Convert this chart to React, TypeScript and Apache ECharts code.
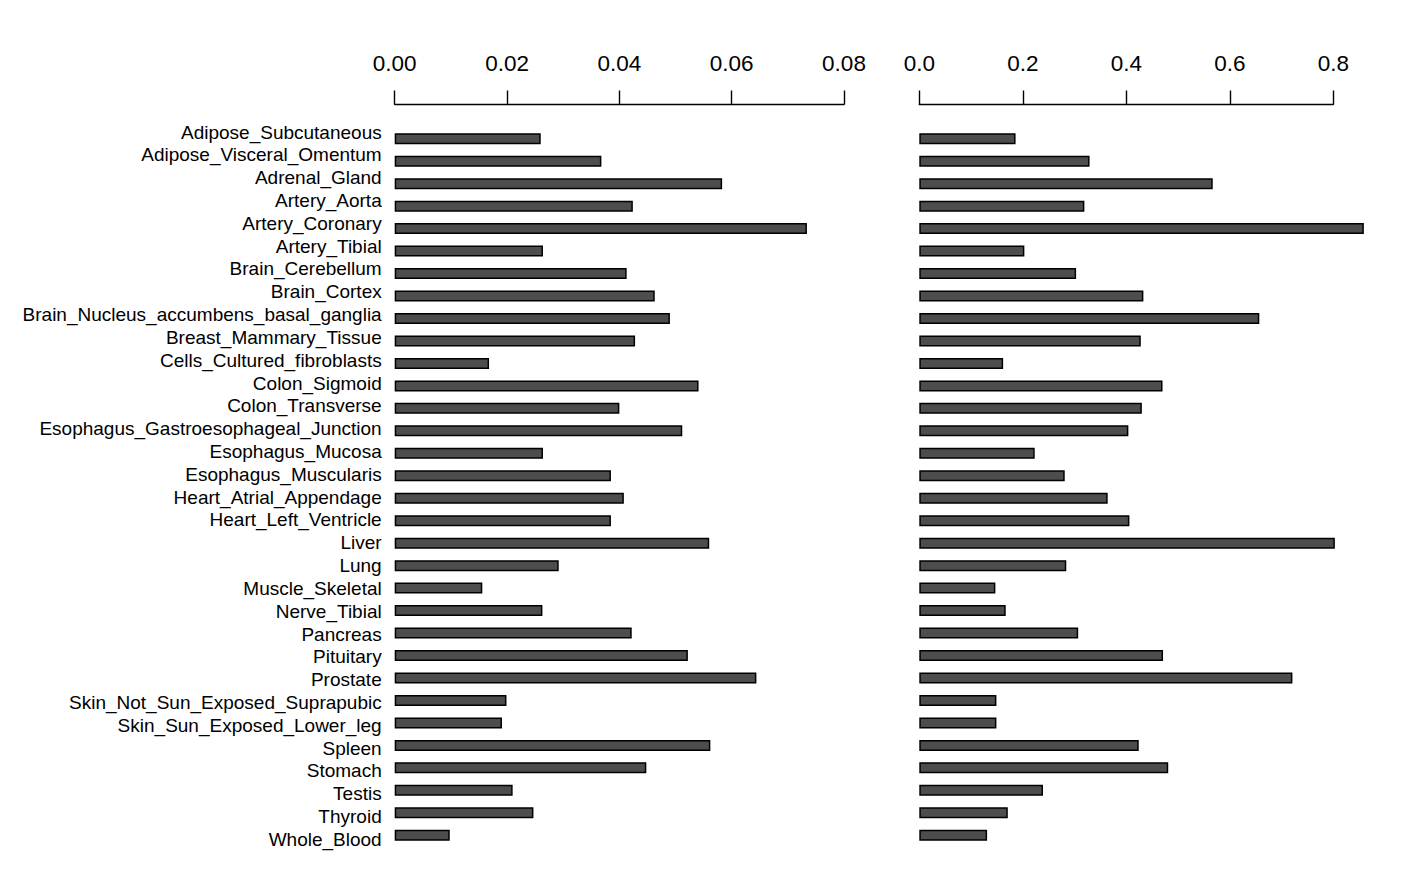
import React, { useEffect, useRef } from "react";
import * as echarts from "echarts";

const categories: string[] = [
  "Adipose_Subcutaneous",
  "Adipose_Visceral_Omentum",
  "Adrenal_Gland",
  "Artery_Aorta",
  "Artery_Coronary",
  "Artery_Tibial",
  "Brain_Cerebellum",
  "Brain_Cortex",
  "Brain_Nucleus_accumbens_basal_ganglia",
  "Breast_Mammary_Tissue",
  "Cells_Cultured_fibroblasts",
  "Colon_Sigmoid",
  "Colon_Transverse",
  "Esophagus_Gastroesophageal_Junction",
  "Esophagus_Mucosa",
  "Esophagus_Muscularis",
  "Heart_Atrial_Appendage",
  "Heart_Left_Ventricle",
  "Liver",
  "Lung",
  "Muscle_Skeletal",
  "Nerve_Tibial",
  "Pancreas",
  "Pituitary",
  "Prostate",
  "Skin_Not_Sun_Exposed_Suprapubic",
  "Skin_Sun_Exposed_Lower_leg",
  "Spleen",
  "Stomach",
  "Testis",
  "Thyroid",
  "Whole_Blood",
];

const leftValues: number[] = [
  0.026, 0.0368, 0.0583, 0.0424, 0.0734, 0.0264, 0.0413, 0.0463, 0.049, 0.0428,
  0.0168, 0.0541, 0.04, 0.0512, 0.0264, 0.0385, 0.0408, 0.0385, 0.056, 0.0292,
  0.0156, 0.0263, 0.0422, 0.0522, 0.0644, 0.0199, 0.0191, 0.0562, 0.0448, 0.021,
  0.0247, 0.0098,
];

const rightValues: number[] = [
  0.186, 0.329, 0.567, 0.319, 0.859, 0.203, 0.303, 0.433, 0.657, 0.428, 0.162,
  0.47, 0.43, 0.404, 0.223, 0.281, 0.364, 0.406, 0.803, 0.284, 0.147, 0.167,
  0.307, 0.471, 0.721, 0.149, 0.149, 0.424, 0.481, 0.239, 0.171, 0.131,
];

const leftTicks = { min: 0, max: 0.08, interval: 0.02, digits: 2 };
const rightTicks = { min: 0, max: 0.8, interval: 0.2, digits: 1 };

const FONT = "'Liberation Sans', Arial, Helvetica, sans-serif";

export default function App() {
  const ref = useRef<HTMLDivElement>(null);

  useEffect(() => {
    if (!ref.current) return;
    const chart = echarts.init(ref.current, null, { renderer: "svg" });

    const barGridTop = 127.5;
    const barGridHeight = 719;

    const xAxisCommon = (t: typeof leftTicks, gridIndex: number) => ({
      type: "value" as const,
      gridIndex,
      position: "top" as const,
      offset: 23,
      min: t.min,
      max: t.max,
      interval: t.interval,
      splitLine: { show: false },
      axisLine: { show: true, lineStyle: { color: "#000", width: 1.4 } },
      axisTick: { show: true, inside: false, length: 14, lineStyle: { color: "#000", width: 1.4 } },
      axisLabel: {
        show: true,
        margin: 30,
        color: "#000",
        fontSize: 22.5,
        fontFamily: FONT,
        formatter: (v: number) => v.toFixed(t.digits),
      },
    });

    const hiddenY = (gridIndex: number) => ({
      type: "category" as const,
      gridIndex,
      data: categories,
      inverse: true,
      axisLine: { show: false },
      axisTick: { show: false },
      axisLabel: { show: false },
      splitLine: { show: false },
    });

    const barStyle = {
      color: "#4d4d4d",
      borderColor: "#000",
      borderWidth: 1.5,
    };

    chart.setOption({
      animation: false,
      backgroundColor: "#fff",
      grid: [
        { left: 394.7, top: barGridTop, width: 449.3, height: barGridHeight, containLabel: false },
        { left: 919.3, top: barGridTop, width: 414, height: barGridHeight, containLabel: false },
        { left: 394.7, top: 120.6, width: 449.3, height: 730.2, containLabel: false },
      ],
      xAxis: [
        xAxisCommon(leftTicks, 0),
        xAxisCommon(rightTicks, 1),
        { type: "value", gridIndex: 2, show: false, min: 0, max: 1 },
      ],
      yAxis: [
        hiddenY(0),
        hiddenY(1),
        {
          type: "category",
          gridIndex: 2,
          data: categories,
          inverse: true,
          axisLine: { show: false },
          axisTick: { show: false },
          splitLine: { show: false },
          axisLabel: {
            show: true,
            interval: 0,
            margin: 13,
            color: "#000",
            fontSize: 19,
            fontFamily: FONT,
          },
        },
      ],
      series: [
        {
          type: "bar",
          xAxisIndex: 0,
          yAxisIndex: 0,
          data: leftValues,
          barWidth: 11,
          clip: false,
          itemStyle: barStyle,
        },
        {
          type: "bar",
          xAxisIndex: 1,
          yAxisIndex: 1,
          data: rightValues,
          barWidth: 11,
          clip: false,
          itemStyle: barStyle,
        },
      ],
    });

    return () => {
      chart.dispose();
    };
  }, []);

  return (
    <div
      ref={ref}
      style={{ position: "fixed", left: 0, top: 0, width: 1420, height: 890, background: "#fff" }}
    />
  );
}
